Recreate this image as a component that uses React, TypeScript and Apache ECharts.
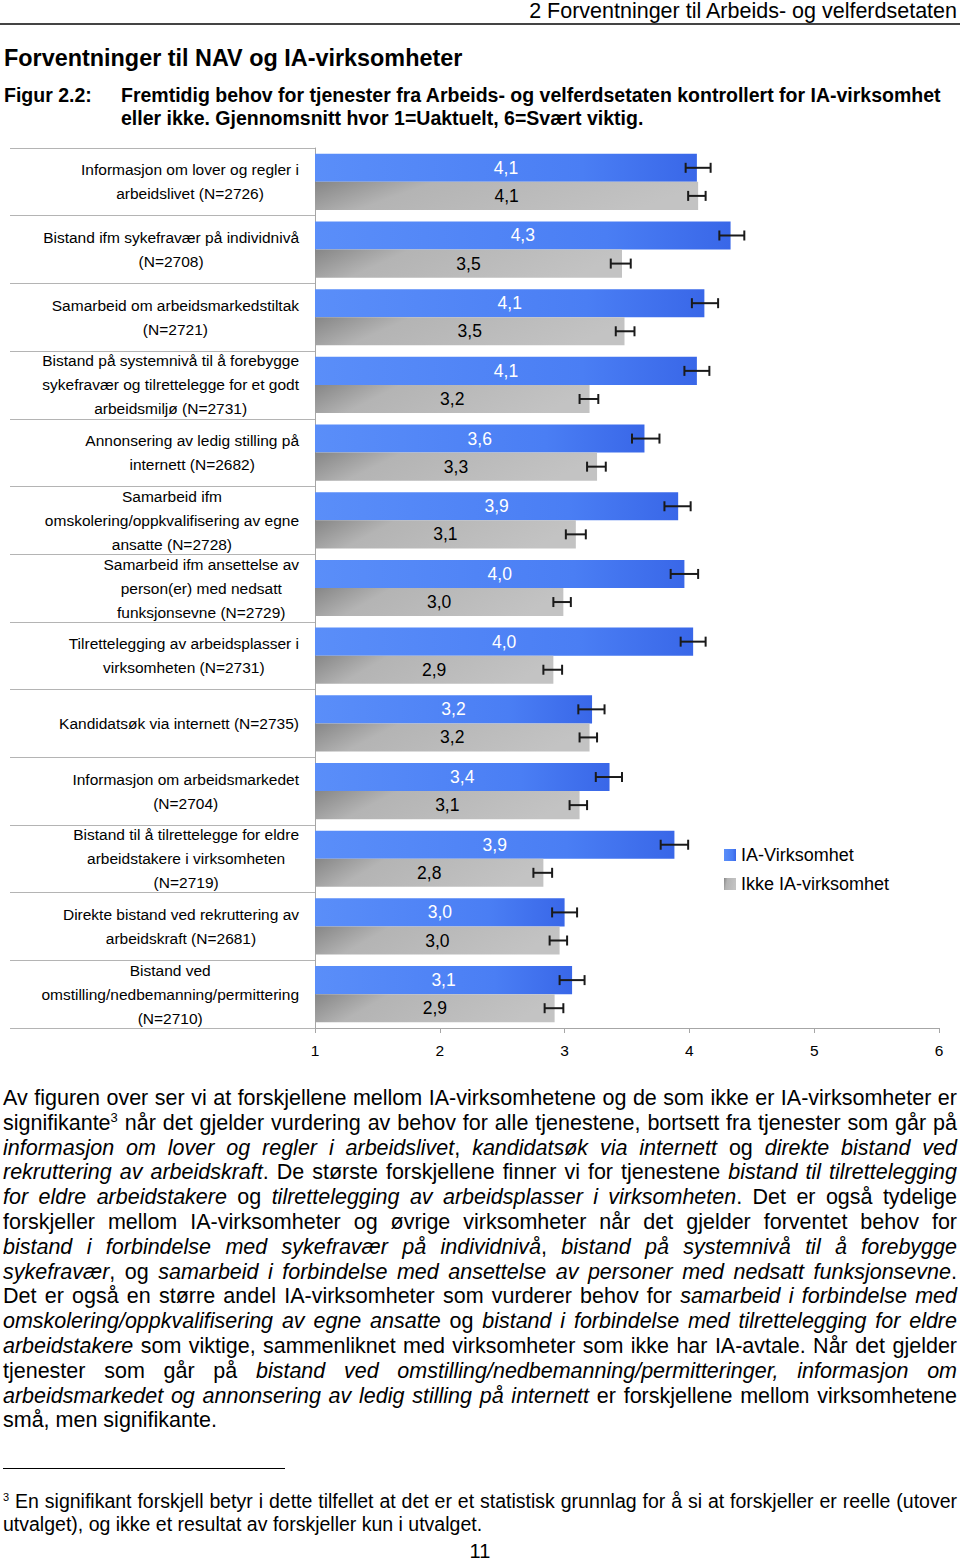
import React, { useEffect, useLayoutEffect, useRef } from "react";
import * as echarts from "echarts";

// ---------- data ----------
const categories = [
  "Informasjon om lover og regler i\narbeidslivet (N=2726)",
  "Bistand ifm sykefravær på individnivå\n(N=2708)",
  "Samarbeid om arbeidsmarkedstiltak\n(N=2721)",
  "Bistand på systemnivå til å forebygge\nsykefravær og tilrettelegge for et godt\narbeidsmiljø (N=2731)",
  "Annonsering av ledig stilling på\ninternett (N=2682)",
  "Samarbeid ifm\nomskolering/oppkvalifisering av egne\nansatte (N=2728)",
  "Samarbeid ifm ansettelse av\nperson(er) med nedsatt\nfunksjonsevne (N=2729)",
  "Tilrettelegging av arbeidsplasser i\nvirksomheten (N=2731)",
  "Kandidatsøk via internett (N=2735)",
  "Informasjon om arbeidsmarkedet\n(N=2704)",
  "Bistand til å tilrettelegge for eldre\narbeidstakere i virksomheten\n(N=2719)",
  "Direkte bistand ved rekruttering av\narbeidskraft (N=2681)",
  "Bistand ved\nomstilling/nedbemanning/permittering\n(N=2710)",
];
const seriesNames = ["IA-Virksomhet", "Ikke IA-virksomhet"];
const iaValues = [4.06, 4.33, 4.12, 4.06, 3.64, 3.91, 3.96, 4.03, 3.22, 3.36, 3.88, 3.0, 3.06];
const ikkeValues = [4.07, 3.46, 3.48, 3.2, 3.26, 3.09, 2.99, 2.91, 3.2, 3.12, 2.83, 2.96, 2.92];
const iaLow = [3.97, 4.24, 4.02, 3.96, 3.54, 3.8, 3.85, 3.93, 3.11, 3.25, 3.77, 2.9, 2.96];
const iaHigh = [4.17, 4.44, 4.23, 4.16, 3.76, 4.01, 4.07, 4.13, 3.32, 3.46, 3.99, 3.1, 3.16];
const ikkeLow = [3.99, 3.37, 3.41, 3.12, 3.18, 3.01, 2.91, 2.83, 3.12, 3.04, 2.75, 2.88, 2.84];
const ikkeHigh = [4.13, 3.53, 3.56, 3.27, 3.33, 3.17, 3.05, 2.98, 3.26, 3.18, 2.9, 3.02, 2.99];
const axisMin = 1;
const axisMax = 6;
const axisStep = 1;

// ---------- text ----------
const headerText = "2 Forventninger til Arbeids- og velferdsetaten";
const titleText = "Forventninger til NAV og IA-virksomheter";
const figLabel = "Figur 2.2:";
const captionLines = [
  "Fremtidig behov for tjenester fra Arbeids- og velferdsetaten kontrollert for IA-virksomhet",
  "eller ikke. Gjennomsnitt hvor 1=Uaktuelt, 6=Svært viktig.",
];
const bodyLines = [
  "Av figuren over ser vi at forskjellene mellom IA-virksomhetene og de som ikke er IA-virksomheter er",
  "signifikante^3 når det gjelder vurdering av behov for alle tjenestene, bortsett fra tjenester som går på",
  "*informasjon om lover og regler i arbeidslivet*, *kandidatsøk via internett* og *direkte bistand ved*",
  "*rekruttering av arbeidskraft*. De største forskjellene finner vi for tjenestene *bistand til tilrettelegging*",
  "*for eldre arbeidstakere* og *tilrettelegging av arbeidsplasser i virksomheten*. Det er også tydelige",
  "forskjeller mellom IA-virksomheter og øvrige virksomheter når det gjelder forventet behov for",
  "*bistand i forbindelse med sykefravær på individnivå*, *bistand på systemnivå til å forebygge*",
  "*sykefravær*, og *samarbeid i forbindelse med ansettelse av personer med nedsatt funksjonsevne*.",
  "Det er også en større andel IA-virksomheter som vurderer behov for *samarbeid i forbindelse med*",
  "*omskolering/oppkvalifisering av egne ansatte* og *bistand i forbindelse med tilrettelegging for eldre*",
  "*arbeidstakere* som viktige, sammenliknet med virksomheter som ikke har IA-avtale. Når det gjelder",
  "tjenester som går på *bistand ved omstilling/nedbemanning/permitteringer, informasjon om*",
  "*arbeidsmarkedet og annonsering av ledig stilling på internett* er forskjellene mellom virksomhetene",
  "små, men signifikante.",
];
const footnoteLines = [
  "^3 En signifikant forskjell betyr i dette tilfellet at det er et statistisk grunnlag for å si at forskjeller er reelle (utover",
  "utvalget), og ikke et resultat av forskjeller kun i utvalget.",
];
const pageNumber = "11";

const SANS = "'Liberation Sans', Arial, Helvetica, sans-serif";
const CAT_GAP = 0.17;

function renderSegments(line: string, supSize: number) {
  const parts = line.split(/(\*[^*]+\*|\^\d)/).filter((p) => p !== "");
  return parts.map((p, i) => {
    if (p.startsWith("*")) return <i key={i}>{p.slice(1, -1)}</i>;
    if (p.startsWith("^"))
      return (
        <sup key={i} style={{ fontSize: supSize, lineHeight: 0, verticalAlign: "super" }}>
          {p.slice(1)}
        </sup>
      );
    return <span key={i}>{p}</span>;
  });
}

// A line of text fitted to the given width: spaces are widened, or the line is squeezed if too long.
function FitLine({ text, width, height, last, supSize }: { text: string; width: number; height: number; last: boolean; supSize: number }) {
  const ref = useRef<HTMLSpanElement>(null);
  useLayoutEffect(() => {
    const el = ref.current;
    if (!el) return;
    el.style.wordSpacing = "0px";
    el.style.transform = "";
    const w = el.getBoundingClientRect().width;
    if (w > width) {
      el.style.transform = `scaleX(${width / w})`;
    } else if (!last) {
      const n = (el.textContent || "").split(" ").length - 1;
      if (n > 0) el.style.wordSpacing = `${(width - w) / n}px`;
    }
  }, [text, width, last]);
  return (
    <div style={{ whiteSpace: "nowrap", height, width }}>
      <span ref={ref} style={{ display: "inline-block", transformOrigin: "left center" }}>
        {renderSegments(text, supSize)}
      </span>
    </div>
  );
}

function fmt(v: number) {
  return v.toFixed(1).replace(".", ",");
}

function makeErrRender(side: number) {
  return (params: any, api: any) => {
    const lo = api.value(0);
    const hi = api.value(1);
    const idx = api.value(2);
    const pLo = api.coord([lo, idx]);
    const pHi = api.coord([hi, idx]);
    const band = api.size([0, 1])[1];
    const barW = (band * (1 - CAT_GAP)) / 2;
    const y = pLo[1] + (side * barW) / 2;
    const cap = 5;
    const style = { stroke: "#1a1a1a", lineWidth: 2 };
    return {
      type: "group",
      children: [
        { type: "line", shape: { x1: pLo[0], y1: y, x2: pHi[0], y2: y }, style },
        { type: "line", shape: { x1: pLo[0], y1: y - cap, x2: pLo[0], y2: y + cap }, style },
        { type: "line", shape: { x1: pHi[0], y1: y - cap, x2: pHi[0], y2: y + cap }, style },
      ],
    };
  };
}

function Chart() {
  const ref = useRef<HTMLDivElement>(null);
  useEffect(() => {
    const chart = echarts.init(ref.current!, null, { renderer: "svg" });
    const blue = new echarts.graphic.LinearGradient(0, 0, 1, 0, [
      { offset: 0, color: "#5a8ef9" },
      { offset: 0.7, color: "#4a7ef4" },
      { offset: 1, color: "#3967e8" },
    ]);
    const gray = new echarts.graphic.LinearGradient(0, 0, 1, 0.2, [
      { offset: 0, color: "#868686" },
      { offset: 0.3, color: "#b4b4b4" },
      { offset: 1, color: "#c3c3c3" },
    ]);
    const richC = {
      c: { align: "center", lineHeight: 24, fontSize: 15.5, fontFamily: SANS, color: "#000" },
    };
    chart.setOption({
      animation: false,
      textStyle: { fontFamily: SANS },
      grid: { left: 315, right: 21, top: 8, bottom: 42, containLabel: false },
      legend: {
        data: seriesNames,
        orient: "vertical",
        left: 724,
        top: 706,
        padding: 0,
        itemWidth: 12,
        itemHeight: 12,
        itemGap: 11,
        icon: "rect",
        textStyle: { fontSize: 18, color: "#000", fontFamily: SANS },
      },
      xAxis: {
        type: "value",
        min: axisMin,
        max: axisMax,
        interval: axisStep,
        splitLine: { show: false },
        axisLine: { show: true, lineStyle: { color: "#a6a6a6", width: 1 } },
        axisTick: { show: true, length: 5, lineStyle: { color: "#a6a6a6" } },
        axisLabel: { fontSize: 15.5, color: "#000", margin: 14, fontFamily: SANS },
      },
      yAxis: {
        type: "category",
        inverse: true,
        data: categories,
        axisLine: { show: true, lineStyle: { color: "#a6a6a6", width: 1 } },
        axisTick: { show: true, length: 305, interval: 0, lineStyle: { color: "#b4b4b4", width: 1 } },
        axisLabel: {
          interval: 0,
          margin: 16,
          formatter: (v: string) =>
            v
              .split("\n")
              .map((l) => `{c|${l}}`)
              .join("\n"),
          rich: richC,
        },
      },
      series: [
        {
          name: seriesNames[0],
          type: "bar",
          data: iaValues,
          barGap: "0%",
          barCategoryGap: CAT_GAP * 100 + "%",
          itemStyle: { color: blue },
          label: {
            show: true,
            position: "inside",
            color: "#fff",
            fontSize: 17.5,
            fontFamily: SANS,
            formatter: (p: any) => fmt(p.value),
          },
        },
        {
          name: seriesNames[1],
          type: "bar",
          data: ikkeValues,
          barGap: "0%",
          barCategoryGap: CAT_GAP * 100 + "%",
          itemStyle: { color: gray },
          label: {
            show: true,
            position: "inside",
            color: "#000",
            fontSize: 17.5,
            fontFamily: SANS,
            formatter: (p: any) => fmt(p.value),
          },
        },
        {
          name: "errIA",
          type: "custom",
          renderItem: makeErrRender(-1),
          data: iaLow.map((l, i) => [l, iaHigh[i], i]),
          encode: { x: [0, 1], y: 2 },
          z: 10,
          silent: true,
        },
        {
          name: "errIkke",
          type: "custom",
          renderItem: makeErrRender(1),
          data: ikkeLow.map((l, i) => [l, ikkeHigh[i], i]),
          encode: { x: [0, 1], y: 2 },
          z: 10,
          silent: true,
        },
      ],
    });
    return () => chart.dispose();
  }, []);
  return <div ref={ref} style={{ position: "absolute", left: 0, top: 140, width: 960, height: 930 }} />;
}

export default function App() {
  return (
    <div
      style={{
        position: "absolute",
        left: 0,
        top: 0,
        width: 960,
        height: 1562,
        background: "#fff",
        color: "#000",
        fontFamily: SANS,
        overflow: "hidden",
      }}
    >
      <div style={{ position: "absolute", right: 3, top: 0, fontSize: 21.5, lineHeight: "22px", whiteSpace: "nowrap" }}>
        {headerText}
      </div>
      <div style={{ position: "absolute", left: 0, top: 23, width: 960, height: 2, background: "#444" }} />
      <div
        style={{ position: "absolute", left: 4, top: 46, fontSize: 23.4, fontWeight: "bold", lineHeight: "24px", whiteSpace: "nowrap" }}
      >
        {titleText}
      </div>
      <div style={{ position: "absolute", left: 4, top: 84, fontSize: 19.5, fontWeight: "bold", lineHeight: "23px", whiteSpace: "nowrap" }}>
        {figLabel}
      </div>
      <div style={{ position: "absolute", left: 121, top: 84, fontSize: 19.5, fontWeight: "bold", lineHeight: "23px" }}>
        {captionLines.map((l, i) => (
          <div key={i} style={{ whiteSpace: "nowrap" }}>
            {l}
          </div>
        ))}
      </div>

      <Chart />

      <div style={{ position: "absolute", left: 3, top: 1086, width: 954, fontSize: 21.5, lineHeight: "24.8px" }}>
        {bodyLines.map((l, i) => (
          <FitLine key={i} text={l} width={954} height={24.8} last={i === bodyLines.length - 1} supSize={13} />
        ))}
      </div>

      <div style={{ position: "absolute", left: 3, top: 1468, width: 282, height: 1, background: "#000" }} />
      <div style={{ position: "absolute", left: 3, top: 1490, width: 954, fontSize: 19.5, lineHeight: "23px" }}>
        {footnoteLines.map((l, i) => (
          <FitLine key={i} text={l} width={954} height={23} last={i === footnoteLines.length - 1} supSize={11} />
        ))}
      </div>
      <div style={{ position: "absolute", left: 0, top: 1540, width: 960, textAlign: "center", fontSize: 20, lineHeight: "22px" }}>
        {pageNumber}
      </div>
    </div>
  );
}
